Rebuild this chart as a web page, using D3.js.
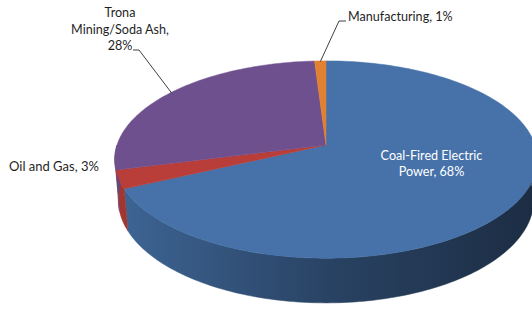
<!DOCTYPE html>
<html>
<head>
<meta charset="utf-8">
<script src="https://cdn.jsdelivr.net/npm/d3@7"></script>
<style>
  body { margin: 0; background: #fff; }
  svg { display: block; }
</style>
</head>
<body>
<svg id="chart" width="532" height="309"></svg>
<script>
// data
const categories = ["Coal-Fired Electric Power", "Oil and Gas", "Trona Mining/Soda Ash", "Manufacturing"];
const shares = [68, 3, 28, 1];
const labelLines = [
  ["Coal-Fired Electric", "Power, 68%"],
  ["Oil and Gas, 3%"],
  ["Trona", "Mining/Soda Ash,", "28%"],
  ["Manufacturing, 1%"]
];
const colors = ["#4672a9", "#b93d38", "#6f508f", "#e08030"];

const svg = d3.select("#chart");
const width = 532, height = 309;

// 3d pie set up (perspective view of a flat disc)
const cx = 326, cy = 145, R = 209;
const tilt = 0.48, dist = 6.02, depth = 0.22;

function project(a, r, z) {
  const X = r * Math.sin(a), Y = r * Math.cos(a);
  const u = Y * Math.sin(tilt) + z * Math.cos(tilt);
  const w = Y * Math.cos(tilt) - z * Math.sin(tilt);
  const s = dist / (dist + w);
  return [cx + X * s * R, cy - u * s * R];
}

function arcPoints(a0, a1, z) {
  const n = Math.max(2, Math.ceil(Math.abs(a1 - a0) / 0.02));
  return d3.range(n + 1).map(i => project(a0 + (a1 - a0) * i / n, 1, z));
}

const pie = d3.pie().sort(null).value(d => d);
const arcs = pie(shares);
const line = d3.line();

// side gradients, light on the left, dark on the right
const defs = svg.append("defs");
colors.forEach((c, i) => {
  const g = defs.append("linearGradient")
    .attr("id", "side" + i)
    .attr("gradientUnits", "userSpaceOnUse")
    .attr("x1", cx - R).attr("x2", cx + R)
    .attr("y1", 0).attr("y2", 0);
  [0, 0.5, 1].forEach(t => {
    g.append("stop")
      .attr("offset", t)
      .attr("stop-color", d3.color(c).darker(0.35 + t * 2.25));
  });
});

// front walls
const walls = svg.append("g").attr("class", "walls");
arcs.forEach((d, i) => {
  const a0 = Math.max(d.startAngle, Math.PI / 2),
        a1 = Math.min(d.endAngle, Math.PI * 1.5);
  if (a1 <= a0) return;
  const pts = arcPoints(a0, a1, 0).concat(arcPoints(a1, a0, -depth));
  walls.append("path")
    .attr("d", line(pts) + "Z")
    .attr("fill", "url(#side" + i + ")")
    .attr("stroke", "url(#side" + i + ")")
    .attr("stroke-width", 0.5);
});

// top faces
const tops = svg.append("g").attr("class", "tops");
arcs.forEach((d, i) => {
  const pts = [project(0, 0, 0)].concat(arcPoints(d.startAngle, d.endAngle, 0));
  tops.append("path")
    .attr("d", line(pts) + "Z")
    .attr("fill", colors[i])
    .attr("stroke", colors[i])
    .attr("stroke-width", 0.5);
});

// labels
const font = "Lato, 'Open Sans', sans-serif";
const labelPos = [null, [9, 171], [120, 17], [348, 21]];
const anchors = ["middle", "start", "middle", "start"];
const lineH = 16.5;

arcs.forEach((d, i) => {
  const mid = (d.startAngle + d.endAngle) / 2;
  let x, y, fill = "#1f1f1f";
  if (i === 0) {
    const p = project(mid, 0.55, 0);
    x = p[0] + 4; y = p[1] - 15;
    fill = "#fff";
  } else {
    x = labelPos[i][0]; y = labelPos[i][1];
  }
  const t = svg.append("text")
    .attr("x", x).attr("y", y)
    .attr("text-anchor", anchors[i])
    .attr("font-family", font)
    .attr("font-size", i === 1 ? 13 : 12.6)
    .attr("fill", fill);
  labelLines[i].forEach((s, k) => {
    t.append("tspan").attr("x", x).attr("y", y + k * lineH).text(s);
  });
});

// leader lines
const leaders = svg.append("g")
  .attr("fill", "none")
  .attr("stroke", "#404040")
  .attr("stroke-width", 1);

const trona = arcs[2], manu = arcs[3];
const tEnd = project((trona.startAngle + trona.endAngle) / 2, 0.99, 0);
leaders.append("path")
  .attr("d", line([[133, 50], [139, 50], tEnd]));
const mEnd = project((manu.startAngle + manu.endAngle) / 2, 0.99, 0);
leaders.append("path")
  .attr("d", line([[346, 21], [339, 21], mEnd]));
</script>
</body>
</html>
